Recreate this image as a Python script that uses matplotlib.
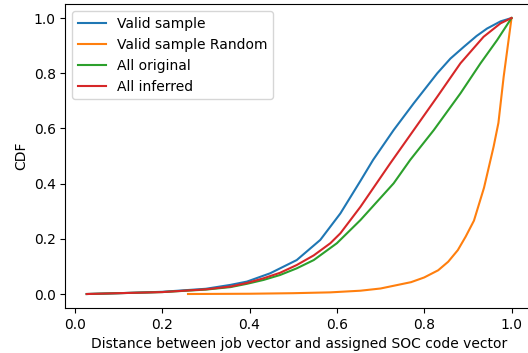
import matplotlib
matplotlib.use('Agg')
import matplotlib.pyplot as plt

# CDF points
valid_x = [0.027, 0.10, 0.20, 0.30, 0.356, 0.394, 0.447, 0.508, 0.562, 0.608, 0.654, 0.683,
           0.730, 0.776, 0.830, 0.860, 0.891, 0.920, 0.944, 0.975, 1.0]
valid_y = [0.0, 0.003, 0.008, 0.019, 0.033, 0.045, 0.075, 0.123, 0.196, 0.292, 0.410, 0.486,
           0.594, 0.691, 0.800, 0.853, 0.896, 0.935, 0.962, 0.988, 1.0]

random_x = [0.259, 0.40, 0.50, 0.585, 0.654, 0.70, 0.770, 0.80, 0.832, 0.855, 0.877, 0.895,
            0.914, 0.937, 0.959, 0.970, 0.982, 1.0]
random_y = [0.0, 0.001, 0.003, 0.006, 0.012, 0.020, 0.043, 0.060, 0.086, 0.117, 0.159, 0.208,
            0.266, 0.385, 0.534, 0.620, 0.787, 1.0]

orig_x = [0.027, 0.10, 0.20, 0.30, 0.356, 0.394, 0.432, 0.470, 0.508, 0.547, 0.600, 0.654,
          0.730, 0.768, 0.822, 0.883, 0.929, 0.967, 1.0]
orig_y = [0.0, 0.003, 0.007, 0.016, 0.025, 0.037, 0.051, 0.069, 0.093, 0.123, 0.184, 0.268,
          0.401, 0.486, 0.594, 0.727, 0.836, 0.920, 1.0]

inferred_x = [0.027, 0.10, 0.20, 0.30, 0.356, 0.394, 0.432, 0.470, 0.508, 0.547, 0.585, 0.608,
              0.654, 0.722, 0.776, 0.830, 0.883, 0.936, 0.975, 1.0]
inferred_y = [0.0, 0.003, 0.007, 0.017, 0.027, 0.040, 0.057, 0.077, 0.105, 0.140, 0.184, 0.220,
              0.316, 0.473, 0.594, 0.715, 0.836, 0.932, 0.981, 1.0]

fig = plt.figure(figsize=(5.28, 3.53), dpi=100)
ax = fig.add_axes([0.124, 0.128, 0.885, 0.860])

ax.plot(valid_x, valid_y, label='Valid sample')
ax.plot(random_x, random_y, label='Valid sample Random')
ax.plot(orig_x, orig_y, label='All original')
ax.plot(inferred_x, inferred_y, label='All inferred')

ax.set_xlabel('Distance between job vector and assigned SOC code vector')
ax.set_ylabel('CDF')
ax.legend(loc='upper left')

fig.savefig('out.png', dpi=100)
